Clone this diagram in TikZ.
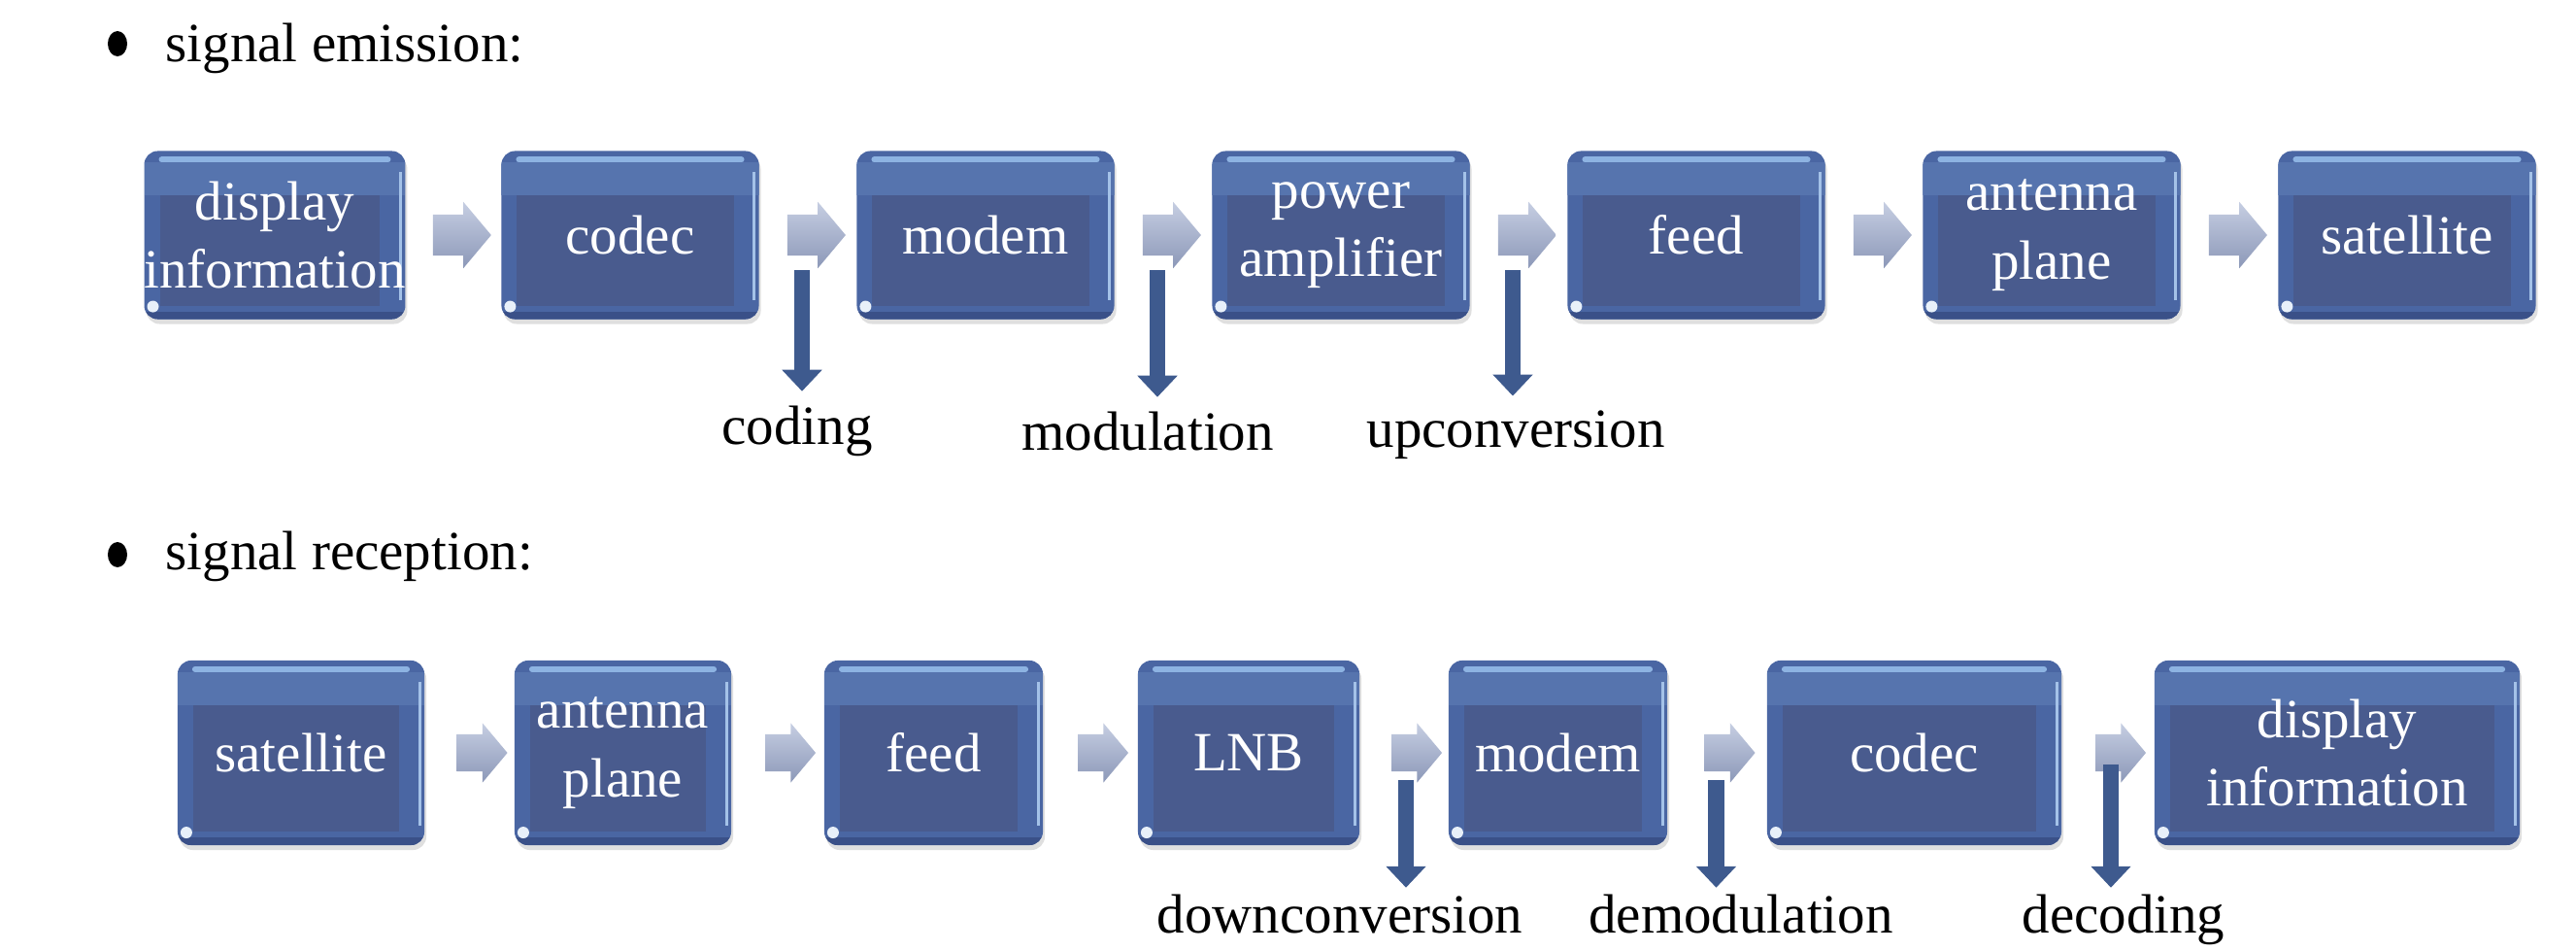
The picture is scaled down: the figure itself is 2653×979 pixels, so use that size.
\documentclass[tikz,border=0pt]{standalone}
\usepackage{fontspec}
\setmainfont{Liberation Serif}
\usetikzlibrary{shapes.arrows,shapes.geometric,shadows,calc,arrows.meta}

\definecolor{boxframe}{HTML}{4A66A3}
\definecolor{boxtop}{HTML}{5674AE}
\definecolor{boxinner}{HTML}{495B8E}
\definecolor{boxhl}{HTML}{8DB3E2}
\definecolor{boxedge}{HTML}{3A5088}
\definecolor{chevtop}{HTML}{C6CEE2}
\definecolor{chevbot}{HTML}{8C98B8}
\definecolor{darr}{HTML}{3E5A8E}

\begin{document}
\begin{tikzpicture}[x=0.01cm,y=-0.01cm,
  txt/.style={font=\fontsize{16.2}{20}\selectfont, inner sep=0pt},
  blockbox/.style={txt, rounded corners=0.14cm, fill=boxframe, text=white, align=center,
    drop shadow={opacity=0.25, shadow xshift=0.02cm, shadow yshift=-0.05cm},
    path picture={
      \coordinate (pNW) at (path picture bounding box.north west);
      \coordinate (pSE) at (path picture bounding box.south east);
      \fill[boxtop, sharp corners] ($(pNW)+(0,12)$) rectangle ($(pNW -| pSE)+(0,46)$);
      \draw[boxhl, line width=0.06cm, line cap=round] ($(pNW)+(18,9)$) -- ($(pNW -| pSE)+(-18,9)$);
      \fill[boxinner, sharp corners] ($(pNW)+(16,46)$) rectangle ($(pSE)+(-26,-14)$);
      \fill[boxedge, sharp corners] ($(pNW |- pSE)+(0,-8)$) rectangle (pSE);
      \draw[boxhl!80!white, line width=0.03cm] ($(pNW -| pSE)+(-5,22)$) -- ($(pSE)+(-5,-20)$);
      \fill[white!80!boxhl] ($(pNW |- pSE)+(9,-13)$) circle (0.06cm);
    }},
  toprow/.style={blockbox, minimum width=2.65cm, minimum height=1.73cm},
  botrow/.style={blockbox, minimum width=#1, minimum height=1.90cm},
  chev/.style={single arrow, single arrow tip angle=100, inner sep=0pt, text depth=0pt,
    top color=chevtop, bottom color=chevbot, draw=none},
  chevA/.style={chev, text height=0.41cm, single arrow head extend=0.13cm, minimum height=0.60cm},
  chevB/.style={chev, text height=0.37cm, single arrow head extend=0.115cm, minimum height=0.52cm},
  darrow/.style={draw=darr, line width=0.16cm, -{Triangle[width=0.40cm,length=0.22cm]}},
  lab/.style={txt, anchor=base},
  bul/.style={ellipse, fill=black, inner sep=0pt, minimum width=0.20cm, minimum height=0.26cm},
]
\useasboundingbox (0,0) rectangle (2653,979);
\fill[white] (0,0) rectangle (2653,979);

% headings
\node[bul] (bu1) at (121,45) {};
\node[txt, anchor=base west] (h1) at (170,64) {signal emission:};
\node[bul] (bu2) at (121,571) {};
\node[txt, anchor=base west] (h2) at (170,586) {signal reception:};

% emission row
\node[toprow] (e1) at (283,242) {display\\information};
\node[toprow] (e2) at (649,242) {codec};
\node[toprow] (e3) at (1015,242) {modem};
\node[toprow] (e4) at (1381,242) {power\\amplifier};
\node[toprow] (e5) at (1747,242) {feed};
\node[toprow] (e6) at (2113,242) {antenna\\plane};
\node[toprow] (e7) at (2479,242) {satellite};

\foreach \a/\b in {1/2,2/3,3/4,4/5,5/6,6/7}
  \node[chevA] (ce\a) at ($(e\a.east)!0.5!(e\b.west)$) {};

\node[lab] (lcod) at (821,458) {coding};
\node[lab] (lmod) at (1182,464) {modulation};
\node[lab] (lup) at (1561,461) {upconversion};

\coordinate (d1) at ($(ce2.south)+(-6,14)$);
\coordinate (d2) at ($(ce3.south)+(-6,14)$);
\coordinate (d3) at ($(ce4.south)+(-6,14)$);
\draw[darrow, shorten >=0.15cm] (d1) -- (d1 |- lcod.north);
\draw[darrow, shorten >=0.15cm] (d2) -- (d2 |- lmod.north);
\draw[darrow, shorten >=0.15cm] (d3) -- (d3 |- lup.north);

% reception row
\node[botrow=2.54cm] (r1) at (310,775) {satellite};
\node[botrow=2.23cm] (r2) at (641.5,775) {antenna\\plane};
\node[botrow=2.25cm] (r3) at (961.5,775) {feed};
\node[botrow=2.28cm] (r4) at (1286,775) {LNB};
\node[botrow=2.25cm] (r5) at (1604.5,775) {modem};
\node[botrow=3.03cm] (r6) at (1971.5,775) {codec};
\node[botrow=3.76cm] (r7) at (2407,775) {display\\information};

\foreach \a/\b in {1/2,2/3,3/4,4/5,5/6,6/7}
  \node[chevB] (cr\a) at ($($(r\a.east)!0.5!(r\b.west)$)+(5,0)$) {};

\node[lab] (ldown) at (1380,960) {downconversion};
\node[lab] (ldem) at (1793,960) {demodulation};
\node[lab] (ldec) at (2187,960) {decoding};

\coordinate (d4) at ($(cr4.south)+(-3,8)$);
\coordinate (d5) at ($(cr5.south)+(-6,8)$);
\coordinate (d6) at ($(cr6.south)+(-2,-8)$);
\draw[darrow, shorten >=0.06cm] (d4) -- (d4 |- ldown.north);
\draw[darrow, shorten >=0.06cm] (d5) -- (d5 |- ldem.north);
\draw[darrow, shorten >=0.06cm] (d6) -- (d6 |- ldec.north);
\end{tikzpicture}
\end{document}
